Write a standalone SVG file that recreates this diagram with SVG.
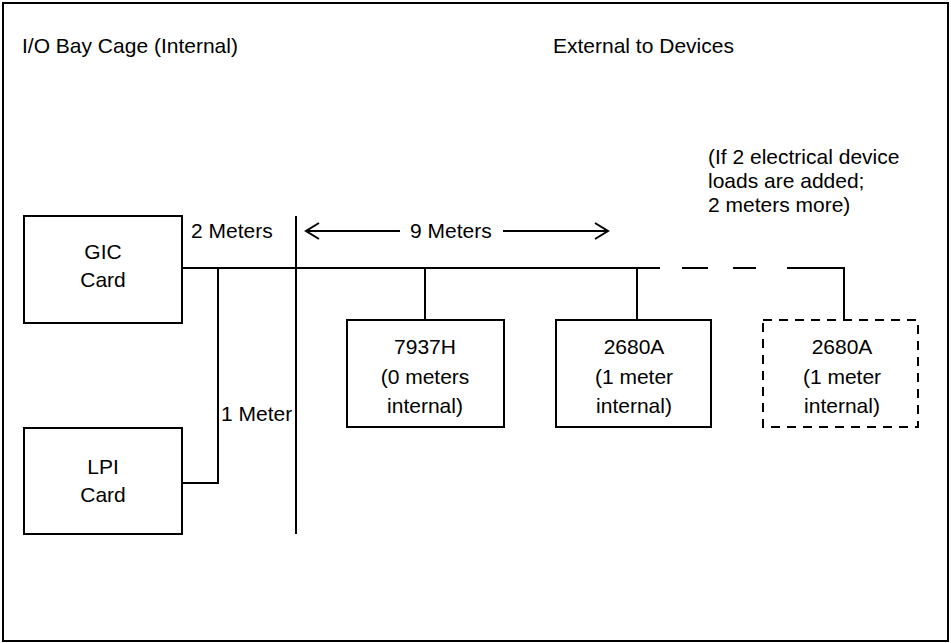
<svg xmlns="http://www.w3.org/2000/svg" width="951" height="643" viewBox="0 0 951 643">
<style>
text{font-family:"Liberation Sans",Arial,sans-serif;font-size:21px;fill:#000}
.c{text-anchor:middle}
.box{fill:#fff;stroke:#000;stroke-width:2}
.dash{fill:#fff;stroke:#000;stroke-width:2;stroke-dasharray:9 7}
.ln{fill:none;stroke:#000;stroke-width:2}
</style>
<defs>
<marker id="ah" markerWidth="16" markerHeight="18" refX="14" refY="9" orient="auto-start-reverse" markerUnits="userSpaceOnUse">
<path d="M1,1 L14,9 L1,17" fill="none" stroke="#000" stroke-width="2"/>
</marker>
</defs>
<rect x="0" y="0" width="951" height="643" fill="#fff"/>
<rect x="3" y="3" width="945" height="638" fill="none" stroke="#000" stroke-width="2"/>
<text x="22" y="53">I/O Bay Cage (Internal)</text>
<text x="553" y="53">External to Devices</text>
<text x="708" y="164">(If 2 electrical device</text>
<text x="708" y="188">loads are added;</text>
<text x="708" y="212">2 meters more)</text>
<g id="connectors">
<line class="ln" x1="182" y1="268" x2="660" y2="268"/>
<path class="ln" d="M682,268 H708 M733,268 H756 M787,268 H844 V320"/>
<line class="ln" x1="296" y1="216" x2="296" y2="534"/>
<path class="ln" d="M218,268 V483 H182"/>
<line class="ln" x1="425" y1="268" x2="425" y2="320"/>
<line class="ln" x1="637" y1="268" x2="637" y2="320"/>
<line class="ln" x1="306" y1="231" x2="400" y2="231" marker-start="url(#ah)"/>
<line class="ln" x1="503" y1="231" x2="608" y2="231" marker-end="url(#ah)"/>
<text x="191" y="238">2 Meters</text>
<text x="410" y="238">9 Meters</text>
<text x="221" y="421">1 Meter</text>
</g>
<g id="gic">
<rect class="box" x="24" y="216" width="158" height="107"/>
<text class="c" x="103" y="259">GIC</text>
<text class="c" x="103" y="287">Card</text>
</g>
<g id="lpi">
<rect class="box" x="24" y="428" width="158" height="106"/>
<text class="c" x="103" y="474">LPI</text>
<text class="c" x="103" y="502">Card</text>
</g>
<g id="dev7937h">
<rect class="box" x="347" y="320" width="157" height="107"/>
<text class="c" x="425" y="354">7937H</text>
<text class="c" x="425" y="384">(0 meters</text>
<text class="c" x="425" y="413">internal)</text>
</g>
<g id="dev2680a1">
<rect class="box" x="556" y="320" width="155" height="107"/>
<text class="c" x="634" y="354">2680A</text>
<text class="c" x="634" y="384">(1 meter</text>
<text class="c" x="634" y="413">internal)</text>
</g>
<g id="dev2680a2">
<rect class="dash" x="763" y="320" width="155" height="107"/>
<text class="c" x="842" y="354">2680A</text>
<text class="c" x="842" y="384">(1 meter</text>
<text class="c" x="842" y="413">internal)</text>
</g>
</svg>
